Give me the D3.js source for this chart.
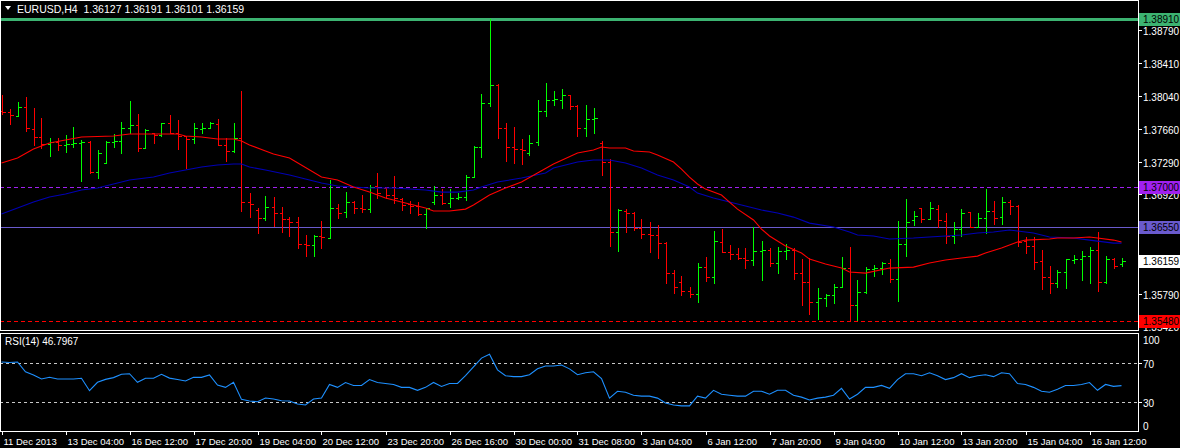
<!DOCTYPE html>
<html><head><meta charset="utf-8">
<script src="https://cdn.jsdelivr.net/npm/d3@7"></script>
<style>
body{margin:0;background:#000;}
svg{display:block;}
text{font-family:"Liberation Sans",Arial,sans-serif;font-size:10px;fill:#fff;}
line{shape-rendering:crispEdges;}
</style>
</head><body>
<svg id="c" width="1180" height="448"></svg>
<script>
// ---------------- DATA ----------------
const headerText = "EURUSD,H4  1.36127 1.36191 1.36101 1.36159";
const rsiTitle = "RSI(14) 46.7967";

const opens = [1.37865,1.37853,1.37808,1.37910,1.37661,1.37569,1.37491,1.37513,1.37479,1.37491,
1.37502,1.37513,1.37172,1.37274,1.37513,1.37524,1.37672,1.37706,1.37445,1.37615,
1.37592,1.37729,1.37615,1.37581,1.37547,1.37661,1.37672,1.37718,1.37479,1.37411,
1.37558,1.36831,1.36740,1.36650,1.36774,1.36706,1.36638,1.36604,1.36354,1.36342,
1.36445,1.36422,1.36763,1.36717,1.36831,1.36763,1.36751,1.37013,1.36990,1.36910,
1.36865,1.36808,1.36786,1.36695,1.36831,1.36910,1.36820,1.36876,1.36888,1.37115,
1.37456,1.37956,1.38160,1.37672,1.37456,1.37433,1.37388,1.37513,1.37865,1.37990,
1.37990,1.38047,1.37922,1.37672,1.37774,1.37502,1.37286,1.36490,1.36729,1.36706,
1.36536,1.36468,1.36456,1.36365,1.36024,1.35922,1.35820,1.35786,1.36092,1.35979,
1.36377,1.36263,1.36240,1.36195,1.36172,1.36274,1.36286,1.36138,1.36274,1.36286,
1.36024,1.35922,1.35695,1.35740,1.35774,1.35865,1.36081,1.35661,1.35808,1.36070,
1.36081,1.36138,1.35956,1.36354,1.36627,1.36763,1.36638,1.36751,1.36615,1.36445,
1.36524,1.36717,1.36547,1.36650,1.36729,1.36660,1.36831,1.36786,1.36388,1.36331,
1.36161,1.35979,1.35911,1.36036,1.36172,1.36183,1.36217,1.36286,1.35922,1.36183,
1.36127];
const highs = [1.38047,1.37888,1.37967,1.38024,1.37899,1.37785,1.37558,1.37558,1.37592,1.37683,
1.37536,1.37524,1.37422,1.37524,1.37604,1.37740,1.37979,1.37831,1.37661,1.37615,
1.37729,1.37819,1.37763,1.37581,1.37729,1.37729,1.37740,1.37774,1.37558,1.37729,
1.38093,1.36933,1.36763,1.36899,1.36888,1.36774,1.36660,1.36660,1.36456,1.36456,
1.36615,1.37081,1.36808,1.36944,1.36842,1.36910,1.37024,1.37161,1.37001,1.37126,
1.36876,1.36842,1.36831,1.36763,1.37013,1.36978,1.36978,1.36933,1.37138,1.37468,
1.38058,1.38910,1.38172,1.37729,1.37683,1.37547,1.37592,1.37990,1.38183,1.38093,
1.38115,1.38047,1.37933,1.37933,1.37899,1.37524,1.37320,1.36751,1.36751,1.36717,
1.36638,1.36604,1.36570,1.36377,1.36058,1.35990,1.35865,1.36138,1.36206,1.36502,
1.36524,1.36342,1.36309,1.36309,1.36547,1.36388,1.36309,1.36320,1.36354,1.36309,
1.36183,1.36195,1.35854,1.35786,1.35899,1.36206,1.36320,1.35945,1.36092,1.36115,
1.36149,1.36183,1.36615,1.36865,1.36729,1.36763,1.36831,1.36797,1.36706,1.36604,
1.36751,1.36717,1.36706,1.36978,1.36842,1.36888,1.36854,1.36797,1.36434,1.36434,
1.36286,1.36104,1.36058,1.36183,1.36229,1.36274,1.36320,1.36490,1.36217,1.36195,
1.36191];
const lows = [1.37831,1.37718,1.37808,1.37638,1.37479,1.37445,1.37354,1.37422,1.37399,1.37456,
1.37070,1.37161,1.37104,1.37274,1.37456,1.37388,1.37615,1.37411,1.37445,1.37502,
1.37581,1.37615,1.37433,1.37217,1.37502,1.37615,1.37672,1.37479,1.37297,1.37399,
1.36729,1.36660,1.36479,1.36627,1.36559,1.36490,1.36445,1.36309,1.36217,1.36217,
1.36309,1.36422,1.36650,1.36660,1.36706,1.36717,1.36717,1.36876,1.36876,1.36820,
1.36740,1.36706,1.36683,1.36536,1.36808,1.36808,1.36774,1.36865,1.36854,1.37115,
1.37342,1.37922,1.37558,1.37297,1.37274,1.37263,1.37365,1.37479,1.37808,1.37933,
1.37899,1.37888,1.37581,1.37581,1.37615,1.37138,1.36331,1.36274,1.36490,1.36513,
1.36422,1.36263,1.36195,1.35911,1.35797,1.35774,1.35752,1.35695,1.35934,1.35911,
1.36263,1.36183,1.36183,1.36081,1.36115,1.35945,1.36104,1.36024,1.36183,1.35956,
1.35661,1.35559,1.35502,1.35650,1.35684,1.35865,1.35480,1.35490,1.35797,1.35990,
1.36013,1.35922,1.35706,1.36217,1.36570,1.36604,1.36638,1.36547,1.36365,1.36365,
1.36445,1.36547,1.36547,1.36479,1.36581,1.36581,1.36695,1.36331,1.36252,1.36070,
1.35842,1.35797,1.35865,1.35854,1.36138,1.35945,1.35911,1.35820,1.35911,1.36081,
1.36101];
const closes = [1.37853,1.37819,1.37910,1.37672,1.37569,1.37491,1.37513,1.37479,1.37491,1.37502,
1.37513,1.37172,1.37388,1.37513,1.37524,1.37672,1.37706,1.37445,1.37649,1.37592,
1.37729,1.37615,1.37581,1.37547,1.37672,1.37672,1.37729,1.37479,1.37411,1.37558,
1.36831,1.36808,1.36650,1.36774,1.36706,1.36638,1.36604,1.36354,1.36342,1.36445,
1.36434,1.36763,1.36706,1.36831,1.36763,1.36751,1.37001,1.36933,1.36910,1.36876,
1.36797,1.36786,1.36695,1.36763,1.36910,1.36820,1.36876,1.36888,1.37115,1.37456,
1.37956,1.38160,1.37672,1.37456,1.37433,1.37422,1.37502,1.37865,1.37990,1.38001,
1.38047,1.37922,1.37672,1.37774,1.37785,1.37286,1.36490,1.36740,1.36706,1.36536,
1.36468,1.36456,1.36365,1.36024,1.35865,1.35820,1.35786,1.36092,1.35979,1.36388,
1.36263,1.36240,1.36195,1.36172,1.36274,1.36286,1.36138,1.36274,1.36286,1.36024,
1.35922,1.35695,1.35740,1.35774,1.35865,1.36081,1.35661,1.35808,1.36070,1.36081,
1.36138,1.35956,1.36354,1.36604,1.36672,1.36638,1.36763,1.36627,1.36445,1.36524,
1.36706,1.36547,1.36650,1.36729,1.36650,1.36831,1.36786,1.36377,1.36331,1.36149,
1.35979,1.35911,1.36036,1.36183,1.36183,1.36217,1.36286,1.35922,1.36183,1.36104,
1.36159];

// moving averages, read at selected bars
const fastMaBars = [0,2,4,5,6,8,10,14,16,19,22,23,25,27,29,30,31,33,34,36,40,42,44,46,48,51,53,54,56,58,59,61,63,65,67,69,72,74,75,76,78,79,81,82,84,85,86,87,88,90,91,92,94,95,96,98,100,101,103,105,106,108,111,114,116,118,120,122,123,125,126,127,128,131,132,134,136,137,139,140];
const fastMa = [1.37274,1.37331,1.37433,1.37468,1.37502,1.37536,1.37569,1.37581,1.37604,1.37604,1.37604,1.37581,1.37569,1.37547,1.37547,1.37524,1.37479,1.37411,1.37377,1.37331,1.37115,1.37081,1.37001,1.36944,1.36876,1.36808,1.36763,1.36729,1.36729,1.36751,1.36797,1.36910,1.36990,1.37058,1.37161,1.37263,1.37388,1.37422,1.37456,1.37445,1.37445,1.37411,1.37399,1.37365,1.37286,1.37206,1.37115,1.37036,1.36978,1.36910,1.36831,1.36751,1.36627,1.36524,1.36445,1.36331,1.36252,1.36183,1.36127,1.36081,1.36036,1.36024,1.36081,1.36092,1.36138,1.36172,1.36195,1.36217,1.36252,1.36309,1.36342,1.36377,1.36399,1.36411,1.36422,1.36422,1.36434,1.36422,1.36399,1.36377];
const slowMaBars = [0,2,4,6,8,10,12,14,16,19,21,23,25,27,29,30,31,33,36,40,42,46,49,53,55,57,59,60,62,65,68,69,72,74,76,78,80,82,84,86,87,89,91,93,95,97,99,101,104,106,107,109,111,114,116,118,120,122,124,126,127,129,131,134,136,139,140];
const slowMa = [1.36695,1.36763,1.36831,1.36888,1.36922,1.36967,1.36990,1.37036,1.37081,1.37115,1.37161,1.37195,1.37229,1.37252,1.37263,1.37263,1.37229,1.37195,1.37138,1.37047,1.37013,1.36990,1.36990,1.36967,1.36944,1.36944,1.36967,1.37001,1.37058,1.37104,1.37161,1.37217,1.37286,1.37308,1.37308,1.37274,1.37217,1.37138,1.37081,1.37001,1.36933,1.36876,1.36831,1.36786,1.36740,1.36706,1.36660,1.36592,1.36547,1.36490,1.36456,1.36445,1.36411,1.36422,1.36434,1.36445,1.36456,1.36479,1.36490,1.36513,1.36502,1.36479,1.36434,1.36422,1.36399,1.36365,1.36365];

const rsi = [71,70.5,71,61,57.7,53.6,55.3,53.6,53.6,53.6,
54.3,41.6,50.2,53.2,55,58.5,59,50.2,54.3,54.3,
58.4,54.5,53,51.5,55.3,55.3,57.7,47.4,45,50.2,
32.7,31,30.3,34.1,33,31.3,31,28,27,33,
34,48,45,50,47,47,53,50,49,48,
45,45,42,45,50,46,49,49,57,66,
75,79,63,57,56,56,58,64,67,67,
68,64,58,60,61,54,34,41,40,37,
36,36,34,29,27,26,26,36,34,42,
38,37,36,36,41,41,38,42,42,37,
35,32,34,35,37,44,33,38,45,45,
47,44,53,59,59,57,60,57,53,55,
59,55,57,58,56,60,59,49,48,45,
41,40,43,47,47,48,50,42,48,46,
46.8];

const timeLabels = ["11 Dec 2013","13 Dec 04:00","16 Dec 12:00","17 Dec 20:00","19 Dec 04:00","20 Dec 12:00","23 Dec 20:00","26 Dec 16:00","30 Dec 00:00","31 Dec 08:00","3 Jan 04:00","6 Jan 12:00","7 Jan 20:00","9 Jan 04:00","10 Jan 12:00","13 Jan 20:00","15 Jan 04:00","16 Jan 12:00"];
const timeLabelBars = [0,8,16,24,32,40,48,56,64,72,80,88,96,104,112,120,128,136];

const priceTicks = [1.38790,1.38410,1.38040,1.37660,1.37290,1.36920,1.35790,1.35420];
const levelPrices = [1.38910,1.37000,1.36550,1.35480];
const levelColors = ["#3cb371","#a020f0","#6a5acd","#ff0000"];
const levelDash = [null,"4,3",null,"4,3"];
const levelWidth = [3,1,1,1];
const bidPrice = 1.36159;

const rsiTicks = [100,70,30,0];
const rsiLevels = [70,30];

// ---------------- LAYOUT ----------------
const svg = d3.select("#c");
const W = 1180, plotR = 1138;
const mainBot = 330, rsiTop = 333, rsiBot = 431;

const x = d3.scaleLinear().domain([0,140]).range([1.5,1121.5]);
const y = d3.scaleLinear().domain([1.35480,1.38910]).range([321,19]);
const yr = d3.scaleLinear().domain([0,100]).range([431.25,333.75]);

svg.append("rect").attr("width",W).attr("height",448).attr("fill","#000");

const defs = svg.append("defs");
defs.append("clipPath").attr("id","cm").append("rect").attr("x",1).attr("y",1).attr("width",plotR-1).attr("height",mainBot-1);
defs.append("clipPath").attr("id","cr").append("rect").attr("x",1).attr("y",rsiTop+1).attr("width",plotR-1).attr("height",rsiBot-rsiTop-1);

const gm = svg.append("g").attr("clip-path","url(#cm)");

// level lines
levelPrices.forEach((p,i)=>{
  const yy = levelWidth[i] % 2 ? Math.round(y(p))+0.5 : Math.round(y(p));
  gm.append("line").attr("x1",0).attr("x2",plotR).attr("y1",yy).attr("y2",yy)
    .attr("stroke",levelColors[i]).attr("stroke-width",levelWidth[i])
    .attr("stroke-dasharray",levelDash[i]);
});

// bars
const idx = d3.range(opens.length);
const col = i => closes[i] >= opens[i] ? "#00ff00" : "#ff0000";
const px = i => Math.round(x(i)) + 0.5;
const py = v => Math.round(y(v)) + 0.5;
const bars = gm.append("g");
bars.selectAll("line.v").data(idx).join("line").attr("class","v")
  .attr("x1",px).attr("x2",px).attr("y1",i=>py(highs[i])-0.5).attr("y2",i=>py(lows[i])+0.5)
  .attr("stroke",col).attr("stroke-width",1);
bars.selectAll("line.o").data(idx).join("line").attr("class","o")
  .attr("x1",i=>px(i)-3).attr("x2",i=>px(i)).attr("y1",i=>py(opens[i])).attr("y2",i=>py(opens[i]))
  .attr("stroke",col).attr("stroke-width",1);
bars.selectAll("line.c").data(idx).join("line").attr("class","c")
  .attr("x1",i=>px(i)).attr("x2",i=>px(i)+3).attr("y1",i=>py(closes[i])).attr("y2",i=>py(closes[i]))
  .attr("stroke",col).attr("stroke-width",1);

// moving averages
const maLine = d3.line().x(d=>x(d[0])).y(d=>y(d[1]));
gm.append("path").datum(slowMaBars.map((b,i)=>[b,slowMa[i]])).attr("d",maLine)
  .attr("fill","none").attr("stroke","#0000b4").attr("stroke-width",1.1);
gm.append("path").datum(fastMaBars.map((b,i)=>[b,fastMa[i]])).attr("d",maLine)
  .attr("fill","none").attr("stroke","#ff0000").attr("stroke-width",1.1);

// header
svg.append("path").attr("d","M5,6 L11,6 L8,10 Z").attr("fill","#fff");
svg.append("text").attr("x",17).attr("y",13).attr("xml:space","preserve")
  .style("white-space","pre").style("font-size","10.5px").text(headerText);

// frames
svg.append("rect").attr("x",0.5).attr("y",0.5).attr("width",plotR).attr("height",mainBot).attr("fill","none").attr("stroke","#fff").style("shape-rendering","crispEdges");
svg.append("rect").attr("x",0.5).attr("y",rsiTop+0.5).attr("width",plotR).attr("height",rsiBot-rsiTop).attr("fill","none").attr("stroke","#fff").style("shape-rendering","crispEdges");

// price axis
const pa = svg.append("g");
priceTicks.forEach(p=>{
  const yy = Math.round(y(p))+0.5;
  pa.append("line").attr("x1",plotR+0.5).attr("x2",plotR+4).attr("y1",yy).attr("y2",yy).attr("stroke","#fff");
  pa.append("text").attr("x",plotR+5).attr("y",yy+4).text(d3.format(".5f")(p));
});
// level labels
const labelPrices = levelPrices.concat([bidPrice]);
const labelColors = levelColors.concat(["#ffffff"]);
labelPrices.forEach((p,i)=>{
  const yy = Math.round(y(p));
  pa.append("rect").attr("x",plotR+1).attr("y",yy-6).attr("width",W-plotR-1).attr("height",13).attr("fill",labelColors[i]);
  pa.append("text").attr("x",plotR+5).attr("y",yy+4).style("fill","#000").text(d3.format(".5f")(p));
});

// RSI
const gr = svg.append("g").attr("clip-path","url(#cr)");
rsiLevels.forEach(v=>{
  gr.append("line").attr("x1",0).attr("x2",plotR).attr("y1",Math.round(yr(v))+0.5).attr("y2",Math.round(yr(v))+0.5)
    .attr("stroke","#c8c8c8").attr("stroke-dasharray","3,3");
});
gr.append("path").datum(rsi).attr("d",d3.line().x((d,i)=>x(i)).y(d=>yr(d)))
  .attr("fill","none").attr("stroke","#1e90ff").attr("stroke-width",1.1);
svg.append("text").attr("x",5).attr("y",345).text(rsiTitle);
rsiTicks.forEach(v=>{
  let yy = Math.round(yr(v))+0.5;
  if (v===100) yy = rsiTop+6.5;
  if (v===0) yy = rsiBot-5.5;
  if (v===70||v===30) svg.append("line").attr("x1",plotR+0.5).attr("x2",plotR+4).attr("y1",yy).attr("y2",yy).attr("stroke","#fff");
  svg.append("text").attr("x",plotR+5).attr("y",yy+4).text(v);
});

// time axis
const ta = svg.append("g");
timeLabelBars.forEach((b,i)=>{
  const xx = px(b);
  ta.append("line").attr("x1",xx).attr("x2",xx).attr("y1",rsiBot+0.5).attr("y2",rsiBot+4).attr("stroke","#fff");
  ta.append("text").attr("x",xx+1).attr("y",445).style("font-size","9.5px").text(timeLabels[i]);
});
</script>
</body></html>
